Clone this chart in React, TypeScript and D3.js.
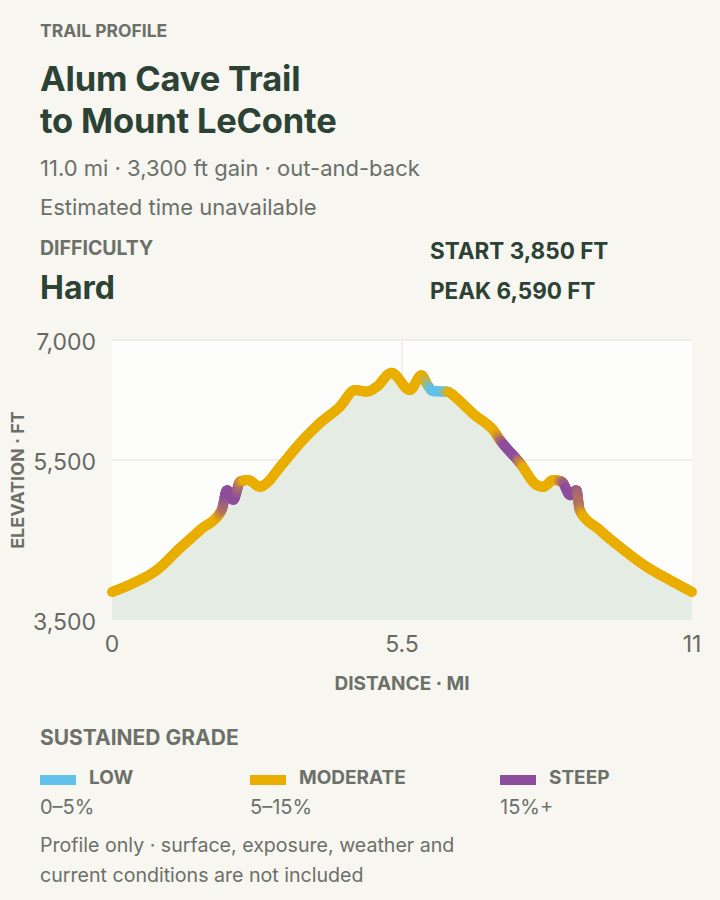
import React, { useEffect, useRef } from "react";
import * as d3 from "d3";

// ---- data ----
const distanceMi = [0.0, 0.4, 0.85, 1.29, 1.67, 2.08, 2.18, 2.3, 2.43, 2.58, 2.81, 2.93, 3.19, 3.62, 3.94, 4.32, 4.61, 4.83, 5.02, 5.3, 5.65, 5.87, 5.99, 6.09, 6.35, 6.54, 6.67, 6.92, 7.05, 7.23, 7.36, 7.74, 8.05, 8.18, 8.37, 8.53, 8.69, 8.81, 8.87, 9.25, 9.63, 10.14, 10.58, 11.0];
const elevationFt = [3850, 3960, 4125, 4400, 4625, 4875, 5125, 5000, 5230, 5250, 5165, 5210, 5415, 5750, 5960, 6165, 6375, 6355, 6415, 6590, 6375, 6560, 6430, 6360, 6355, 6270, 6190, 6040, 5980, 5875, 5750, 5460, 5190, 5165, 5250, 5230, 5060, 5125, 4875, 4625, 4415, 4165, 4000, 3850];
// grade class of each segment (between consecutive points)
const segmentGrade = ["moderate", "moderate", "moderate", "moderate", "moderate", "steep", "steep", "steep", "moderate", "moderate", "moderate", "moderate", "moderate", "moderate", "moderate", "moderate", "moderate", "moderate", "moderate", "moderate", "moderate", "moderate", "low", "low", "moderate", "moderate", "moderate", "moderate", "moderate", "moderate", "steep", "moderate", "moderate", "moderate", "moderate", "steep", "steep", "steep", "moderate", "moderate", "moderate", "moderate", "moderate"];
const gradeKeys = ["low", "moderate", "steep"];
const gradeLabels = ["LOW", "MODERATE", "STEEP"];
const gradeRanges = ["0–5%", "5–15%", "15%+"];
const gradeColors = ["#62c1ea", "#e9ae00", "#8e4d9d"];
const yTicks = [3500, 5500, 7000];
const xTicks = [0, 5.5, 11];

const FONT = "Inter, 'Noto Sans', sans-serif";
const DARK = "#2c4234";
const GRAY = "#6b7069";

export default function App() {
  const ref = useRef<SVGSVGElement | null>(null);

  useEffect(() => {
    const svg = d3.select(ref.current);
    svg.selectAll("*").remove();
    const W = 720, H = 900;
    const left = 112, right = 692, top = 340, bottom = 620;

    svg.append("rect").attr("width", W).attr("height", H).attr("fill", "#f7f6f1");

    const t = (x: number, y: number, s: string, size: number, weight: number, fill: string, anchor = "start") =>
      svg.append("text").attr("x", x).attr("y", y).text(s)
        .attr("font-family", FONT).attr("font-size", size).attr("font-weight", weight)
        .attr("fill", fill).attr("text-anchor", anchor);

    t(40, 37, "TRAIL PROFILE", 17.5, 700, GRAY);
    t(40, 91, "Alum Cave Trail", 34.5, 700, DARK).attr("letter-spacing", -0.2);
    t(40, 133, "to Mount LeConte", 34.5, 700, DARK).attr("letter-spacing", -0.2);
    t(40, 176, "11.0 mi · 3,300 ft gain · out-and-back", 22, 400, GRAY);
    t(40, 215, "Estimated time unavailable", 22, 400, GRAY);
    t(40, 255, "DIFFICULTY", 19.5, 700, GRAY);
    t(40, 299, "Hard", 32, 700, DARK);
    t(430, 259, "START 3,850 FT", 22.5, 700, DARK);
    t(430, 299, "PEAK 6,590 FT", 22.5, 700, DARK);

    const x = d3.scaleLinear().domain([0, 11]).range([left, right]);
    const y = d3.scaleLinear().domain([3500, 7000]).range([bottom, top]);

    svg.append("rect").attr("x", left).attr("y", top).attr("width", right - left).attr("height", bottom - top).attr("fill", "#fdfdfb");

    const g = svg.append("g");
    yTicks.filter(v => v !== 3500).forEach(v => {
      g.append("line").attr("x1", left).attr("x2", right).attr("y1", y(v)).attr("y2", y(v)).attr("stroke", "#ebeae5").attr("stroke-width", 1.5);
    });
    g.append("line").attr("x1", x(5.5)).attr("x2", x(5.5)).attr("y1", top).attr("y2", bottom).attr("stroke", "#ebeae5").attr("stroke-width", 1.5);

    const pts: [number, number][] = distanceMi.map((d, i) => [d, elevationFt[i]]);
    const area = d3.area<[number, number]>().x(d => x(d[0])).y0(bottom).y1(d => y(d[1])).curve(d3.curveMonotoneX);
    svg.append("path").attr("d", area(pts)).attr("fill", "#e5ece4");

    const line = d3.line<[number, number]>().x(d => x(d[0])).y(d => y(d[1])).curve(d3.curveMonotoneX);
    const tmp = svg.append("path").attr("d", line(pts)).attr("fill", "none").attr("stroke", "none");
    const node = tmp.node() as SVGPathElement;
    const L = node.getTotalLength();

    const gradeAt = (mi: number) => {
      let i = d3.bisectRight(distanceMi, mi) - 1;
      i = Math.max(0, Math.min(segmentGrade.length - 1, i));
      return gradeColors[gradeKeys.indexOf(segmentGrade[i])];
    };
    const colorAt = (mi: number) => {
      const w = 0.07, n = 11;
      let r = 0, gg = 0, b = 0;
      for (let k = 0; k < n; k++) {
        const m = mi - w + (2 * w * k) / (n - 1);
        const c = d3.rgb(gradeAt(m));
        r += c.r; gg += c.g; b += c.b;
      }
      return d3.rgb(r / n, gg / n, b / n).formatHex();
    };

    const lg = svg.append("g");
    const step = 1.5;
    for (let s = 0; s < L; s += step) {
      const p0 = node.getPointAtLength(s);
      const p1 = node.getPointAtLength(Math.min(L, s + step));
      const mid = (p0.x + p1.x) / 2;
      lg.append("line").attr("x1", p0.x).attr("y1", p0.y).attr("x2", p1.x).attr("y2", p1.y)
        .attr("stroke", colorAt(x.invert(mid))).attr("stroke-width", 10).attr("stroke-linecap", "round");
    }
    tmp.remove();

    // axes labels
    const fmt = d3.format(",");
    yTicks.forEach(v => {
      t(96, y(v) + 1.5, fmt(v), 23, 400, "#676964", "end").attr("dominant-baseline", "central");
    });
    xTicks.forEach(v => {
      t(x(v), 652, String(v), 23, 400, "#676964", "middle");
    });
    t(x(5.5), 690, "DISTANCE · MI", 19, 700, GRAY, "middle");
    svg.append("text").attr("transform", `translate(24,480) rotate(-90)`)
      .attr("text-anchor", "middle").attr("font-family", FONT).attr("font-size", 18).attr("font-weight", 700)
      .attr("fill", GRAY).text("ELEVATION · FT");

    // legend
    t(40, 745, "SUSTAINED GRADE", 21, 700, GRAY);
    const lx = [40, 250, 500];
    gradeKeys.forEach((k, i) => {
      svg.append("rect").attr("x", lx[i]).attr("y", 775).attr("width", 36).attr("height", 10).attr("fill", gradeColors[i]);
      t(lx[i] + 49, 784, gradeLabels[i], 19, 700, GRAY);
      t(lx[i], 814, gradeRanges[i], 20, 400, GRAY);
    });
    t(40, 852, "Profile only · surface, exposure, weather and", 19.6, 400, GRAY);
    t(40, 882, "current conditions are not included", 19.6, 400, GRAY);
  }, []);

  return (
    <svg ref={ref} width={720} height={900} style={{ position: "absolute", left: 0, top: 0 }} />
  );
}
